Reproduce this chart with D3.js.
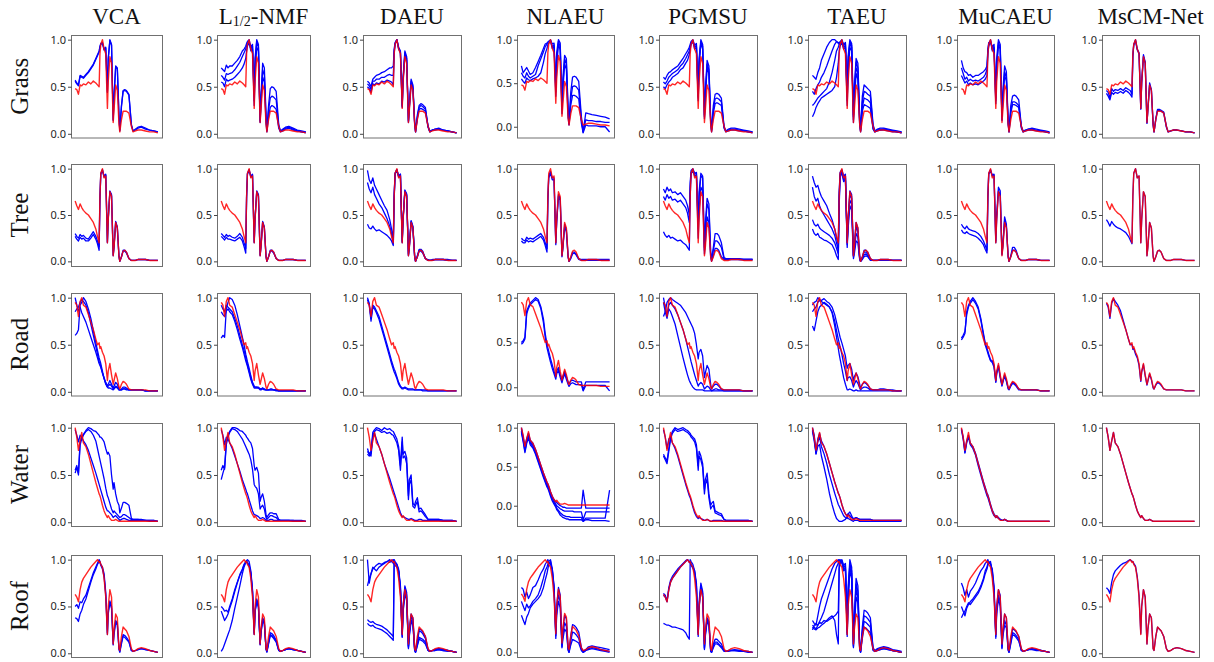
<!DOCTYPE html>
<html>
<head>
<meta charset="utf-8">
<script src="https://cdn.jsdelivr.net/npm/d3@7/dist/d3.min.js"></script>
<style>
  body { margin: 0; background: #fff; }
</style>
</head>
<body>
<div id="chart"></div>
<script>
/************************************************************
 * 1) Categories + band grid (percent of the spectral range)
 ************************************************************/
const methods = ['VCA', 'L1/2-NMF', 'DAEU', 'NLAEU', 'PGMSU', 'TAEU', 'MuCAEU', 'MsCM-Net'];
const materials = ['Grass', 'Tree', 'Road', 'Water', 'Roof'];
const bands = [0,2,4,6,8,10,13,16,19,22,25,27,29,30,31,33,35,37,39,40,42,44,46,47,49,51,53,54,56,58,60,62,65,68,70,73,76,80,85,90,95,100];
const tickValues = [0, 50, 100];

/************************************************************
 * 2) Reference spectra (red), reflectance x100
 ************************************************************/
const refGrass = [48,47,42,52,51,53,52,55,53,56,54,52,50,85,95,100,90,85,27,55,82,75,12,25,52,46,10,2,15,24,24,24,22,8,2,3,4,4,3,2,2,1];
const refTree  = [65,60,56,62,58,55,52,50,46,42,35,27,20,70,95,100,90,92,20,45,75,70,6,15,42,36,5,0,5,11,12,10,3,1,1,1,2,2,2,1,1,1];
const refRoad  = [95,92,80,96,100,92,90,82,74,66,56,50,52,46,48,42,38,30,12,22,30,18,8,12,20,14,5,3,8,11,10,8,3,2,2,2,2,2,2,1,1,1];
const refWater = [100,90,76,86,95,84,80,72,62,52,42,36,30,28,25,18,12,8,5,7,4,2,2,2,3,2,1,1,1,1,1,1,1,1,1,1,1,1,1,1,1,1];
const refRoof  = [63,60,55,68,76,80,84,88,92,95,98,100,97,98,95,92,80,60,20,50,68,60,10,25,42,38,5,3,18,28,26,24,18,5,2,3,5,6,5,3,2,1];

/************************************************************
 * 3) Estimated spectra (blue), one list of curves per panel
 ************************************************************/
// Grass
const grassVCA = [
  [57,54,52,62,61,60,63,66,70,74,80,84,88,93,96,97,90,92,45,80,100,95,15,40,72,70,20,4,30,46,47,46,42,10,3,5,7,8,6,4,3,2],
  [56,53,51,61,60,59,62,65,69,73,79,83,87,92,95,96,89,91,44,79,99,94,14,39,71,69,19,3,29,45,46,45,41,9,3,4,6,7,5,4,3,2]];
const grassL12 = [
  [70,68,66,73,70,72,72,75,78,82,88,90,93,96,98,100,92,95,40,80,100,95,14,40,75,70,20,4,30,48,50,49,45,10,3,5,7,8,6,4,3,2],
  [62,60,57,64,63,64,65,68,72,76,82,86,90,94,97,98,90,93,35,75,98,92,13,35,68,62,16,3,25,38,40,39,36,8,3,4,6,7,5,3,2,2],
  [55,54,50,58,56,57,58,60,63,66,70,74,80,88,93,97,88,90,30,65,92,88,12,30,60,55,12,2,18,28,30,29,26,6,2,3,5,6,4,3,2,1]];
const grassDAEU = [
  [56,54,50,58,60,62,63,65,66,68,70,70,72,90,97,100,92,88,30,60,88,82,14,30,58,52,12,3,20,30,32,31,28,8,3,4,5,6,4,3,2,1],
  [53,51,47,56,56,58,58,60,60,62,63,62,62,88,96,100,91,87,29,58,86,80,13,28,56,50,11,2,18,28,30,29,26,8,2,4,5,5,4,3,2,1],
  [50,48,44,53,52,54,53,56,55,57,56,55,52,86,95,100,90,86,28,56,84,78,12,27,53,48,10,2,16,26,27,26,24,7,2,4,4,5,4,3,2,1]];
const grassNLAEU = [
  [70,62,65,68,64,60,62,68,75,82,90,95,96,97,98,100,95,96,45,85,100,96,25,55,82,78,20,5,40,57,58,57,52,12,-6,16,15,14,13,12,11,9],
  [62,58,56,62,58,56,58,60,70,78,86,92,95,97,98,99,92,94,40,78,98,92,20,48,78,72,15,3,32,46,47,46,42,8,-6,8,7,7,6,6,5,5],
  [55,52,50,56,54,53,55,56,58,62,74,84,90,94,96,98,90,92,35,70,95,88,15,42,72,66,10,2,25,36,36,35,32,4,-7,2,1,1,1,0,0,-6]];
const grassPGMSU = [
  [60,58,62,65,66,68,70,72,76,80,85,88,92,95,98,100,94,96,40,80,100,95,20,45,78,72,16,4,30,42,43,42,38,8,3,5,6,6,5,4,3,2],
  [55,53,56,60,62,64,66,68,72,75,80,84,88,92,96,99,92,94,38,76,98,93,18,42,74,68,14,3,26,37,38,37,34,7,3,4,5,5,4,3,2,2],
  [50,48,52,55,57,60,62,64,68,70,75,78,84,90,95,98,90,92,35,72,96,90,16,38,70,64,12,2,22,32,33,32,30,6,2,3,4,4,3,3,2,1]];
const grassTAEU = [
  [62,60,58,65,70,78,85,92,97,100,100,98,96,95,97,100,95,97,45,82,100,96,20,50,80,75,18,4,40,52,50,48,45,10,3,5,6,6,5,4,3,2],
  [45,42,48,52,55,60,65,72,80,88,95,98,97,96,98,99,94,96,40,78,98,94,18,45,76,70,15,3,34,45,44,42,40,8,3,4,5,5,4,3,2,2],
  [30,32,35,38,40,42,45,48,55,65,78,88,92,95,96,98,92,94,35,72,96,92,15,40,70,65,12,3,28,38,37,36,33,6,2,4,4,5,4,3,2,1],
  [18,22,28,32,35,38,40,42,44,46,50,60,75,88,93,97,90,92,30,65,92,88,12,35,64,58,10,2,24,31,30,29,27,5,2,3,4,4,3,2,2,1]];
const grassMuCAEU = [
  [78,70,66,65,62,63,60,62,62,64,66,68,72,90,97,98,92,95,38,80,100,95,18,45,72,66,14,3,30,40,41,40,36,8,3,4,5,6,5,4,3,2],
  [70,64,58,60,56,58,56,57,56,58,60,63,68,88,95,100,90,92,35,74,97,92,15,40,66,60,12,2,25,34,34,33,30,7,2,4,5,5,4,3,2,1],
  [62,58,54,56,52,54,52,53,52,54,56,58,62,85,93,99,88,90,32,70,94,90,14,36,62,56,10,2,22,31,31,30,28,6,2,3,4,4,3,3,2,1]];
const grassMsCM = [
  [46,44,38,48,45,47,46,48,46,49,47,46,42,84,95,100,90,86,27,55,84,76,12,26,54,47,10,2,16,26,26,25,23,8,2,3,4,4,3,2,2,1],
  [43,40,36,44,42,44,43,45,43,46,44,42,39,82,94,99,89,85,26,54,82,75,11,25,52,46,9,2,15,25,25,24,22,7,2,3,4,4,3,2,2,1]];

// Tree
const treeVCA = [
  [30,27,25,29,27,28,25,24,28,32,27,22,16,70,95,99,92,94,21,46,76,72,7,16,43,37,5,0,5,12,12,10,3,1,1,1,2,2,2,1,1,1],
  [27,24,22,26,24,25,22,22,25,29,24,19,12,68,94,98,91,93,20,45,75,71,6,15,42,36,5,0,5,11,11,9,3,1,1,1,2,2,2,1,1,1]];
const treeL12 = [
  [30,28,26,29,27,28,26,25,27,30,26,20,14,70,95,99,92,94,21,46,76,72,7,16,43,37,5,0,5,12,12,10,3,1,1,1,2,2,2,1,1,1],
  [27,25,23,26,24,24,23,22,24,26,22,16,9,68,94,98,91,93,20,45,75,71,6,15,42,36,5,0,5,11,11,9,3,1,1,1,2,2,2,1,1,1]];
const treeDAEU = [
  [98,88,84,90,82,78,72,66,60,55,45,35,25,72,95,99,92,94,22,47,77,73,8,17,44,38,5,0,6,13,13,11,3,2,1,2,2,2,2,2,1,1],
  [85,78,74,80,72,68,62,58,52,46,38,30,20,70,95,99,92,94,21,46,76,72,7,16,43,37,5,0,5,12,12,10,3,1,1,1,2,2,2,1,1,1],
  [40,36,35,38,35,33,34,32,30,28,25,22,17,68,94,98,91,93,20,45,75,71,6,15,42,36,5,0,5,11,11,9,3,1,1,1,2,2,2,1,1,1]];
const treeNLAEU = [
  [25,23,22,26,24,25,24,26,28,30,26,20,14,68,92,97,90,90,20,44,72,68,6,15,40,34,5,0,4,10,10,8,3,2,2,2,2,2,2,2,2,2],
  [22,20,20,23,21,22,21,23,25,27,23,17,10,65,90,95,88,88,18,42,70,66,5,14,37,32,4,0,3,8,9,7,2,1,1,1,1,1,1,1,1,1]];
const treePGMSU = [
  [78,74,80,76,78,74,75,72,74,70,66,60,50,85,98,100,95,96,40,75,95,92,15,40,68,62,10,2,15,30,30,28,20,4,3,3,3,3,3,2,2,2],
  [70,66,72,68,70,66,67,64,66,62,58,52,42,80,96,99,94,95,35,70,92,90,12,35,62,56,8,1,12,22,22,20,15,3,2,3,3,3,2,2,2,2],
  [32,28,26,28,25,26,24,22,23,20,18,15,12,70,94,98,92,93,25,55,80,76,8,20,48,42,5,0,6,14,14,12,5,2,2,2,2,2,2,2,2,2]];
const treeTAEU = [
  [92,85,80,82,75,70,65,60,52,45,35,25,18,75,96,99,92,94,22,46,76,72,7,16,42,36,5,0,5,12,12,10,3,1,1,1,2,2,2,1,1,1],
  [80,70,65,68,60,55,50,45,40,35,28,20,12,70,94,98,90,92,20,44,72,68,6,14,38,32,4,0,4,10,10,8,2,1,1,1,1,1,1,1,1,1],
  [45,40,38,40,36,34,32,30,28,25,20,14,8,65,92,97,88,90,18,40,66,62,5,12,30,26,3,0,3,7,8,6,2,1,1,1,1,1,1,1,1,1],
  [35,30,28,30,26,25,23,22,20,18,12,6,2,60,90,96,86,88,15,35,60,55,3,8,22,20,2,0,2,5,6,5,1,1,1,1,1,1,1,1,1,1]];
const treeMuCAEU = [
  [40,37,35,38,35,34,33,32,30,27,22,17,12,70,95,99,93,94,22,50,80,76,8,18,48,40,5,0,6,15,15,12,3,1,1,1,2,2,2,1,1,1],
  [34,31,30,32,30,29,28,27,25,22,18,13,9,68,94,98,92,93,20,46,76,72,7,16,44,37,5,0,5,12,12,10,3,1,1,1,2,2,2,1,1,1]];
const treeMsCM = [
  [45,42,38,43,40,38,36,35,33,31,27,23,19,70,95,100,90,92,20,45,75,70,6,15,42,36,5,0,5,11,12,10,3,1,1,1,2,2,2,1,1,1]];

// Road
const roadVCA = [
  [60,62,66,92,95,100,96,88,78,65,52,44,36,33,30,22,14,8,5,4,4,3,2,3,5,4,2,2,2,3,3,2,2,2,2,2,2,2,1,1,1,1],
  [100,92,86,90,84,80,74,66,58,50,42,36,30,28,26,20,15,10,6,8,12,8,4,6,10,8,3,2,3,5,5,4,2,2,2,2,2,2,1,1,1,1],
  [85,88,90,95,98,96,92,84,72,60,48,40,32,30,27,20,14,9,5,6,8,6,3,4,6,5,2,2,2,3,3,3,2,2,2,2,2,2,1,1,1,1]];
const roadL12 = [
  [57,60,58,88,95,100,98,92,82,70,58,50,40,36,32,25,17,10,6,5,5,5,3,3,4,3,2,2,2,3,3,2,2,1,1,1,1,1,1,1,1,1],
  [92,88,85,92,90,88,85,78,70,60,50,44,36,32,29,22,15,9,5,5,5,4,3,3,4,3,2,2,2,2,2,2,2,1,1,1,1,1,1,1,1,1],
  [85,82,80,86,88,85,82,75,66,56,47,40,33,30,27,20,13,8,4,4,4,4,2,2,3,2,2,2,2,2,2,2,1,1,1,1,1,1,1,1,1,1]];
const roadDAEU = [
  [100,94,78,92,90,86,80,70,60,50,40,33,27,24,22,16,10,6,4,4,5,4,3,3,3,3,2,2,2,2,2,2,2,1,1,1,1,1,1,1,1,1],
  [98,92,75,90,88,84,77,67,57,47,37,30,24,21,19,14,8,5,3,3,4,3,2,2,2,2,2,2,2,2,2,1,1,1,1,1,1,1,1,1,1,1]];
const roadNLAEU = [
  [50,52,56,85,90,94,97,100,98,90,76,60,48,44,40,32,25,18,12,18,22,14,8,12,18,12,6,4,7,8,7,6,6,6,-3,6,6,6,6,6,6,6],
  [48,50,54,82,88,92,95,98,96,88,72,56,44,40,36,28,21,15,9,15,19,11,5,9,15,9,3,1,4,5,4,3,3,3,-4,2,2,2,2,2,2,-4]];
const roadPGMSU = [
  [80,85,95,98,100,98,96,94,92,88,84,80,76,74,72,68,62,50,35,42,45,38,15,20,28,24,8,3,6,8,8,6,3,2,2,2,2,2,2,1,1,1],
  [100,90,80,92,95,92,88,82,74,66,56,48,40,36,32,25,18,12,6,8,10,8,3,4,6,5,2,1,2,3,3,2,2,1,1,1,1,1,1,1,1,1],
  [95,85,78,88,85,80,72,60,48,36,25,18,12,10,8,5,3,2,2,2,2,2,1,1,1,1,1,1,1,1,1,1,1,1,1,1,1,1,1,1,1,1]];
const roadTAEU = [
  [92,95,96,100,98,97,99,96,94,90,82,74,66,62,58,52,45,38,25,28,30,24,12,16,20,16,8,4,8,10,9,7,3,2,2,2,3,3,2,2,1,1],
  [85,88,90,95,97,96,94,92,90,85,75,65,56,52,48,40,30,22,12,15,16,12,5,8,12,9,4,2,4,5,5,4,2,2,2,2,2,2,2,1,1,1],
  [70,65,75,85,90,92,95,93,90,84,70,58,46,40,35,25,15,8,2,2,3,2,1,1,2,1,1,1,1,1,1,1,1,1,1,1,1,1,1,1,1,1]];
const roadMuCAEU = [
  [55,58,62,85,92,96,100,96,90,78,62,52,46,43,40,34,33,28,11,20,28,16,7,11,18,12,4,3,7,10,9,7,3,2,2,2,2,2,2,1,1,1],
  [57,60,64,82,90,94,98,94,88,76,60,50,44,41,38,33,31,26,10,19,27,15,6,10,17,11,3,2,6,9,8,6,2,2,2,2,2,2,2,1,1,1]];
const roadMsCM = [
  [94,90,78,94,99,96,92,86,76,66,56,50,50,45,46,40,36,28,11,21,29,17,7,11,19,13,4,3,7,10,9,7,3,2,2,2,2,2,2,1,1,1]];

// Water
const waterVCA = [
  [55,60,52,85,90,93,97,100,99,97,96,94,92,90,90,88,85,78,72,74,70,50,35,42,30,22,18,10,15,21,21,20,18,4,3,3,3,3,2,2,2,1],
  [52,58,50,82,88,92,96,98,96,92,86,78,70,66,62,54,46,36,28,26,20,14,10,12,10,8,6,5,6,8,8,7,5,3,3,3,3,2,2,2,2,1],
  [98,92,85,92,90,86,82,76,68,60,52,46,40,37,34,28,22,16,12,12,10,8,5,6,7,5,3,2,3,4,4,3,2,2,2,2,2,2,2,1,1,1]];
const waterL12 = [
  [45,52,58,85,92,96,100,100,99,97,96,94,92,90,89,86,84,78,60,55,58,52,22,26,30,22,8,5,8,10,10,9,9,3,2,2,2,2,2,2,2,1],
  [55,60,56,82,90,95,99,98,96,92,88,84,80,78,76,72,66,56,40,38,36,30,14,16,18,14,5,3,5,7,7,6,5,2,2,2,2,2,2,1,1,1],
  [98,92,82,90,88,84,78,70,62,54,45,40,35,32,30,24,18,12,8,8,7,6,4,4,5,4,2,2,2,3,3,2,2,2,2,2,2,2,1,1,1,1]];
const waterDAEU = [
  [78,72,75,95,98,100,99,97,100,98,99,97,96,94,92,88,80,60,90,72,75,68,28,45,50,20,18,22,26,14,15,12,8,3,3,3,3,3,2,2,2,1],
  [72,70,73,92,96,98,97,95,96,94,95,93,92,90,88,84,76,55,85,68,70,62,24,40,45,17,15,18,22,11,12,10,6,3,3,3,3,3,2,2,2,1],
  [75,72,70,90,94,88,80,72,62,54,46,40,34,31,28,22,16,10,6,6,5,4,3,3,4,3,2,2,2,3,3,2,2,2,2,2,2,2,1,1,1,1]];
const waterNLAEU = [
  [100,88,75,86,93,84,80,72,62,52,42,36,30,28,25,18,12,8,5,4,2,0,-1,-2,-2,-3,-3,-3,-3,-3,-3,-3,-3,-3,20,-3,-3,-3,-3,-3,-3,-3],
  [98,86,73,84,91,82,78,70,60,50,40,34,28,26,23,16,10,6,2,0,-2,-4,-5,-6,-7,-7,-7,-7,-7,-7,-8,-8,-8,-8,-18,-8,-8,-8,-8,-8,-8,-8],
  [96,84,70,82,89,80,76,68,58,48,38,32,26,24,21,14,8,4,0,-3,-6,-9,-11,-12,-13,-14,-14,-14,-15,-15,-15,-15,-15,-15,-20,-16,-16,-16,-16,-16,-16,20],
  [94,82,68,80,87,78,74,66,56,46,36,30,24,22,19,12,6,2,-2,-5,-8,-12,-14,-15,-16,-17,-17,-18,-18,-18,-18,-18,-18,-18,-20,-18,-18,-19,-19,-19,-19,-20]];
const waterPGMSU = [
  [72,68,65,78,90,96,100,98,99,100,98,97,95,94,92,90,88,82,60,75,70,62,35,45,52,30,18,20,22,12,11,10,9,3,2,2,2,2,2,2,2,1],
  [70,66,62,75,88,94,98,96,97,98,96,95,93,92,90,88,85,78,55,70,66,58,30,40,46,26,14,16,18,10,9,8,7,3,2,2,2,2,2,2,2,1],
  [98,90,78,88,90,84,78,70,60,50,40,34,28,26,23,16,10,6,4,5,4,3,2,2,3,2,1,1,2,2,2,2,2,1,1,1,1,1,1,1,1,1]];
const waterTAEU = [
  [100,92,72,88,94,86,80,72,62,52,42,36,30,28,25,18,12,8,6,8,6,4,3,3,4,3,2,2,2,2,2,2,2,1,1,1,1,1,1,1,1,1],
  [98,88,74,85,90,80,72,62,50,40,30,24,18,16,14,10,6,4,3,8,10,6,2,3,4,3,2,2,2,2,2,2,2,1,1,1,1,1,1,1,1,1],
  [96,86,72,80,82,70,58,45,30,18,8,3,1,0,0,0,1,2,5,3,2,1,0,1,1,1,0,0,0,0,0,0,0,0,0,0,0,0,0,0,0,0]];
const waterMuCAEU = [
  [99,90,74,86,92,84,80,73,63,53,43,37,31,29,26,19,13,9,6,7,5,3,2,2,3,2,1,1,1,1,1,1,1,1,1,1,1,1,1,1,1,1],
  [98,88,73,84,90,82,78,71,60,50,40,34,28,26,23,17,11,7,5,6,4,3,2,2,3,2,1,1,1,1,1,1,1,1,1,1,1,1,1,1,1,1]];
const waterMsCM = [
  [100,90,76,86,95,84,80,72,62,52,42,36,30,28,25,18,12,8,5,7,4,2,2,2,3,2,1,1,1,1,1,1,1,1,1,1,1,1,1,1,1,1]];

// Roof
const roofVCA = [
  [50,52,48,55,54,58,62,70,78,86,92,96,100,98,95,92,85,65,22,45,56,50,10,22,35,32,5,2,12,20,19,17,13,3,2,3,4,5,4,3,2,1],
  [38,37,34,42,46,52,58,67,76,84,90,95,98,97,94,90,82,62,20,42,54,48,9,20,33,30,4,1,10,18,17,15,12,3,2,3,4,5,4,3,2,1]];
const roofL12 = [
  [2,5,10,15,20,25,35,48,60,72,85,92,97,99,100,98,88,68,22,46,58,52,10,24,38,34,5,2,12,22,21,19,14,4,2,3,4,5,4,3,2,1],
  [50,48,45,46,44,50,58,68,76,84,90,95,98,99,97,94,86,66,21,45,56,50,10,22,36,32,5,2,11,20,19,17,13,3,2,3,4,5,4,3,2,1],
  [45,40,35,38,42,48,56,66,75,83,89,94,97,98,96,93,85,65,20,44,55,49,9,21,35,31,4,1,10,19,18,16,12,3,2,3,4,5,4,3,2,1]];
const roofDAEU = [
  [100,75,85,92,90,88,92,94,96,98,97,99,100,98,97,95,90,72,22,50,72,65,8,25,42,38,5,2,14,26,25,23,18,4,2,3,4,5,4,3,2,1],
  [72,80,85,90,92,94,96,95,97,98,100,98,96,95,94,92,88,70,20,48,70,62,7,23,40,36,4,2,12,24,23,21,16,4,2,3,4,5,4,3,2,1],
  [36,34,33,34,32,31,30,29,27,25,22,20,18,100,98,95,88,68,18,45,66,58,6,20,36,32,3,1,9,17,16,15,12,3,2,3,3,4,3,3,2,1],
  [32,30,29,30,28,27,26,25,23,21,18,16,14,98,97,94,87,67,17,44,64,56,5,18,34,30,3,1,8,15,14,13,10,3,2,3,3,4,3,2,2,1]];
const roofNLAEU = [
  [70,68,60,65,58,62,70,72,78,85,90,95,98,100,97,95,90,72,20,50,70,62,8,24,40,36,4,1,18,30,29,27,22,5,1,3,6,7,6,5,4,3],
  [55,50,45,52,48,50,55,58,62,70,80,88,92,95,98,100,90,70,18,45,62,55,6,18,32,28,3,0,12,22,21,19,15,3,0,2,4,5,4,3,2,1],
  [40,35,30,38,42,48,52,55,58,62,70,78,85,90,95,98,88,68,15,40,55,48,5,14,25,22,2,0,8,14,13,12,10,2,0,2,3,4,3,2,1,0]];
const roofPGMSU = [
  [62,60,55,68,76,80,84,88,92,95,98,100,97,98,95,92,88,75,22,55,75,66,6,22,38,34,3,1,8,12,12,10,7,3,2,3,3,3,3,2,2,1],
  [64,62,56,70,78,82,86,90,93,96,99,100,98,97,94,91,86,72,20,50,72,64,5,20,36,32,3,1,10,15,15,13,10,3,2,3,3,4,3,2,2,1],
  [32,31,30,30,29,28,28,27,26,25,22,18,15,100,98,95,88,70,18,48,70,60,4,18,34,30,2,1,6,10,10,9,6,2,2,2,3,3,2,2,1,1]];
const roofTAEU = [
  [35,32,30,40,50,58,66,74,82,90,96,98,100,98,96,100,94,96,25,70,100,92,10,40,80,72,8,2,28,46,45,43,38,6,3,5,6,7,6,4,3,2],
  [30,28,26,30,34,38,45,55,65,75,85,92,96,100,97,99,92,94,22,65,96,88,8,36,74,66,6,2,24,40,39,37,33,5,2,4,5,6,5,3,2,1],
  [28,26,25,27,28,30,32,35,38,40,35,20,10,98,100,98,90,92,20,60,92,85,7,32,68,60,5,1,20,34,33,31,28,4,2,3,4,5,4,3,2,1],
  [25,30,32,30,33,32,35,34,36,38,40,42,45,90,96,97,88,90,18,55,88,80,6,28,60,54,4,1,16,28,27,25,22,3,2,3,4,5,4,3,2,1]];
const roofMuCAEU = [
  [75,70,62,68,60,66,70,75,82,88,92,96,98,100,97,95,90,72,20,50,68,62,8,24,42,38,5,2,14,26,25,23,18,4,2,3,4,5,4,3,2,1],
  [50,45,40,48,52,55,58,62,66,72,80,88,92,96,98,96,88,68,18,45,62,55,6,20,35,30,4,1,12,22,21,19,15,3,2,3,4,5,4,3,2,1],
  [38,42,45,50,54,52,56,60,64,70,78,85,90,94,96,98,86,66,16,42,58,50,5,18,30,27,3,1,10,20,19,17,13,3,2,3,4,4,3,3,2,1]];
const roofMsCM = [
  [70,68,64,76,84,88,91,94,96,97,99,100,98,98,96,93,82,62,21,50,68,60,10,25,42,38,5,3,18,28,26,24,18,5,2,3,5,6,5,3,2,1]];

/************************************************************
 * 4) Lookup tables built from the arrays above
 ************************************************************/
const references = [refGrass, refTree, refRoad, refWater, refRoof];
const estimates = [
  [grassVCA, grassL12, grassDAEU, grassNLAEU, grassPGMSU, grassTAEU, grassMuCAEU, grassMsCM],
  [treeVCA, treeL12, treeDAEU, treeNLAEU, treePGMSU, treeTAEU, treeMuCAEU, treeMsCM],
  [roadVCA, roadL12, roadDAEU, roadNLAEU, roadPGMSU, roadTAEU, roadMuCAEU, roadMsCM],
  [waterVCA, waterL12, waterDAEU, waterNLAEU, waterPGMSU, waterTAEU, waterMuCAEU, waterMsCM],
  [roofVCA, roofL12, roofDAEU, roofNLAEU, roofPGMSU, roofTAEU, roofMuCAEU, roofMsCM]
];

/************************************************************
 * 5) Layout (panel boxes in page pixels)
 ************************************************************/
const W = 1214, H = 662;
const colLeft  = [71, 217, 363, 517, 659, 808, 957, 1102];
const colRight = [162, 310, 461, 614, 757, 906, 1054, 1199];
const rowTop    = [35, 164, 293, 423, 555];
const rowBottom = [137.5, 266, 395.5, 526, 657];

const svg = d3.select('#chart').append('svg')
  .attr('width', W)
  .attr('height', H)
  .style('font-family', "'Noto Sans', 'DejaVu Sans', sans-serif");

// column titles
methods.forEach((m, j) => {
  const t = svg.append('text')
    .attr('x', (colLeft[j] + colRight[j]) / 2)
    .attr('y', 24)
    .attr('text-anchor', 'middle')
    .attr('font-family', "'Liberation Serif', 'Times New Roman', serif")
    .attr('font-size', '23px')
    .attr('fill', '#111');
  if (m === 'L1/2-NMF') {
    t.append('tspan').text('L');
    t.append('tspan').attr('font-size', '14px').attr('dy', 2).text('1/2');
    t.append('tspan').attr('dy', -2).text('-NMF');
  } else {
    t.text(m);
  }
});

// row labels
materials.forEach((name, i) => {
  svg.append('text')
    .attr('transform', `translate(28,${(rowTop[i] + rowBottom[i]) / 2}) rotate(-90)`)
    .attr('text-anchor', 'middle')
    .attr('font-family', "'Liberation Serif', 'Times New Roman', serif")
    .attr('font-size', '25px')
    .attr('fill', '#111')
    .text(name);
});

const bad = [];

materials.forEach((mat, i) => {
  methods.forEach((meth, j) => {
    const ref = references[i];
    const curves = estimates[i][j];
    [ref].concat(curves).forEach((c, k) => {
      if (c.length !== bands.length) bad.push(`${mat}/${meth}/${k}:${c.length}`);
    });

    const all = d3.merge([ref].concat(curves));
    const [lo, hi] = d3.extent(all);
    const pad = (hi - lo) * 0.05;

    const x = d3.scaleLinear().domain([-5, 105]).range([colLeft[j], colRight[j]]);
    const y = d3.scaleLinear().domain([lo - pad, hi + pad]).range([rowBottom[i], rowTop[i]]);

    const g = svg.append('g');
    const line = d3.line()
      .defined(d => d != null)
      .x((d, k) => x(bands[k]))
      .y(d => y(d));

    // estimated (blue)
    g.selectAll('.est')
      .data(curves)
      .enter().append('path')
      .attr('class', 'est')
      .attr('d', line)
      .attr('fill', 'none')
      .attr('stroke', '#0000ff')
      .attr('stroke-width', 1.3)
      .attr('stroke-linejoin', 'round');

    // reference (red)
    g.append('path')
      .attr('d', line(ref))
      .attr('fill', 'none')
      .attr('stroke', '#ff0000')
      .attr('stroke-opacity', 0.85)
      .attr('stroke-width', 1.4)
      .attr('stroke-linejoin', 'round');

    // frame
    g.append('rect')
      .attr('x', colLeft[j] + 0.5)
      .attr('y', rowTop[i] + 0.5)
      .attr('width', colRight[j] - colLeft[j])
      .attr('height', rowBottom[i] - rowTop[i])
      .attr('fill', 'none')
      .attr('stroke', '#707070')
      .attr('stroke-width', 1);

    // y axis
    const ax = g.append('g')
      .attr('transform', `translate(${colLeft[j] + 0.5},0)`)
      .call(d3.axisLeft(y)
        .tickValues(tickValues)
        .tickSize(3.5)
        .tickPadding(2)
        .tickFormat(d => (d / 100).toFixed(1)));
    ax.select('.domain').remove();
    ax.selectAll('.tick line').attr('stroke', '#444');
    ax.selectAll('.tick text')
      .attr('fill', '#262626')
      .attr('font-size', '11px')
      .attr('font-family', "'Noto Sans', 'DejaVu Sans', sans-serif");
  });
});

if (bad.length) throw new Error('length mismatch: ' + bad.join(', '));
</script>
</body>
</html>
